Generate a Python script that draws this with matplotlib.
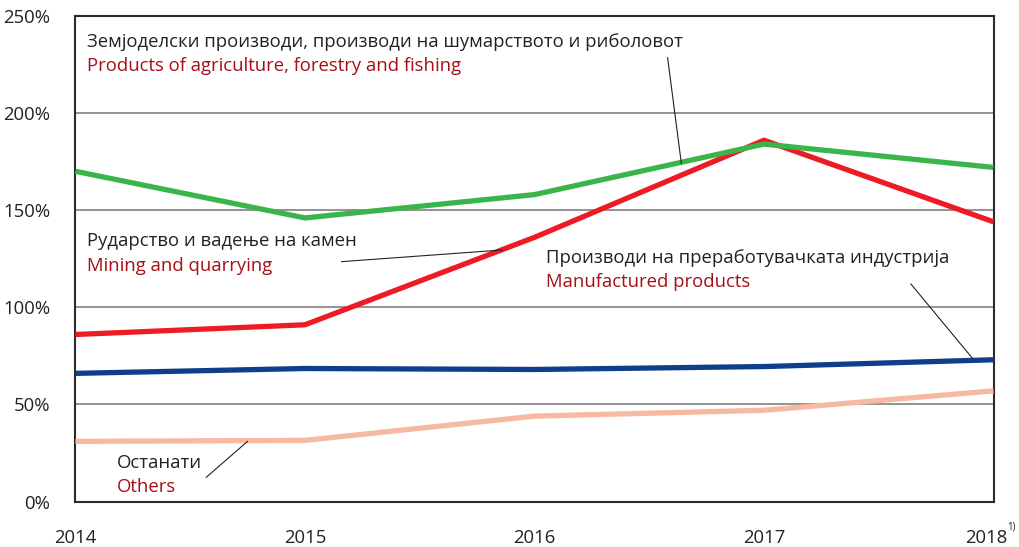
import matplotlib
matplotlib.use('Agg')
import matplotlib.pyplot as plt
import matplotlib.transforms as mtransforms

years = [2014, 2015, 2016, 2017, 2018]
year_labels = ['2014', '2015', '2016', '2017', '2018']

agriculture = [170, 146, 158, 184, 172]
mining = [86, 91, 136, 186, 144]
manufactured = [66, 68.5, 68, 69.5, 73]
others = [31, 31.5, 44, 47, 57]

plt.rcParams['font.family'] = ['Open Sans', 'DejaVu Sans']

fig = plt.figure(figsize=(10.19, 5.47), dpi=100)
ax = fig.add_axes([0.074, 0.083, 0.901, 0.888])

ax.plot(years, others, color='#F7B9A0', lw=3.8, solid_capstyle='butt', zorder=3)
ax.plot(years, manufactured, color='#0F3E8C', lw=3.8, solid_capstyle='butt', zorder=3)
ax.plot(years, mining, color='#ED1C24', lw=3.8, solid_capstyle='butt', zorder=3)
ax.plot(years, agriculture, color='#39B54A', lw=3.8, solid_capstyle='butt', zorder=4)

ax.set_xlim(2014, 2018)
ax.set_ylim(0, 250)
ax.set_yticks(range(0, 251, 50))
ax.set_yticklabels([f'{v}%' for v in range(0, 251, 50)])
ax.set_xticks(years)
ax.set_xticklabels(year_labels)
ax.tick_params(length=0, labelsize=13.3, colors='#222222')
ax.tick_params(axis='y', pad=18)
ax.tick_params(axis='x', pad=20)
for lbl in ax.get_yticklabels():
    lbl.set_horizontalalignment('right')
# last year label sits a little left so the footnote fits
last = ax.get_xticklabels()[-1]
last.set_transform(last.get_transform() +
                   mtransforms.ScaledTranslation(-7 / 100, 0, fig.dpi_scale_trans))
for v in range(50, 250, 50):
    ax.axhline(v, color='#808080', lw=1.2, zorder=1)
for s in ax.spines.values():
    s.set_color('#2a2a2a')
    s.set_linewidth(1.5)

# footnote marker on 2018
ax.text(1.0145, -0.052, '1)', transform=ax.transAxes, fontsize=7, color='#222222',
        ha='left', va='center')

dark_red = '#A50F15'
fs = 13.3

# labels with leader lines (axes data coords)
def label(x, y, mk, en, line):
    ax.text(x, y, mk, fontsize=fs, color='#222222', va='center')
    ax.text(x, y - 12.5, en, fontsize=fs, color=dark_red, va='center')
    ax.plot(line[0], line[1], color='#222222', lw=0.8, zorder=5)

label(2014.05, 236.5, 'Земјоделски производи, производи на шумарството и риболовот',
      'Products of agriculture, forestry and fishing',
      ([2016.58, 2016.64], [228.5, 174]))
label(2014.05, 134, 'Рударство и вадење на камен', 'Mining and quarrying',
      ([2015.16, 2015.86], [123.5, 129.5]))
label(2016.05, 125.5, 'Производи на преработувачката индустрија', 'Manufactured products',
      ([2017.64, 2017.91], [112, 73.5]))
label(2014.18, 20, 'Останати', 'Others',
      ([2014.57, 2014.75], [12.5, 31]))

fig.savefig('out.png', dpi=100)
